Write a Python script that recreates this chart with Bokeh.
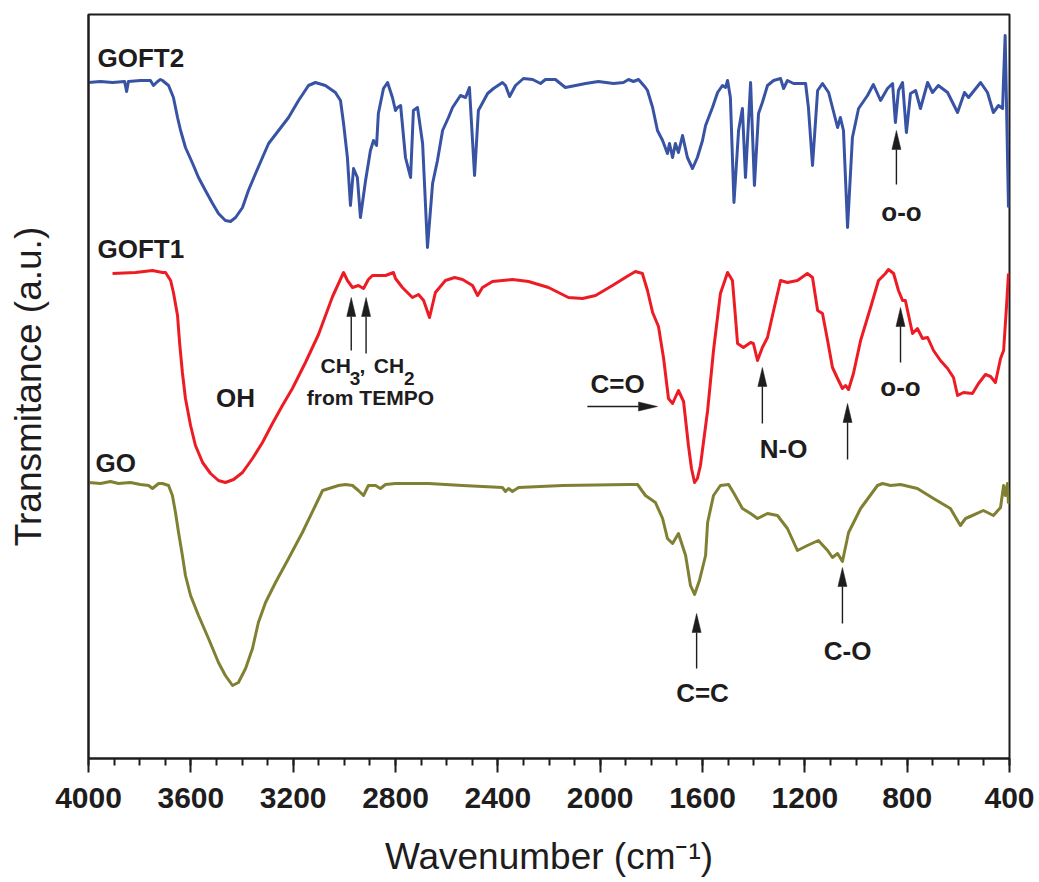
import math
from bokeh.plotting import figure
from bokeh.models import Range1d, FixedTicker, Label
from bokeh.embed import file_html
from bokeh.resources import INLINE

# ---------------- data ----------------
# GOFT2 (blue)
goft2_wn = [4000, 3953, 3906, 3859, 3851, 3844, 3797, 3758, 3746, 3730, 3719,
            3711, 3687, 3668, 3652, 3640, 3621, 3593, 3570, 3543, 3515, 3492, 3465, 3445, 3425,
            3398, 3375, 3347, 3320, 3296, 3257, 3218, 3179, 3140, 3113, 3074, 3035, 3015, 3003,
            2988, 2976, 2964, 2949, 2937, 2917, 2898, 2886, 2874, 2867, 2847, 2831, 2812, 2800,
            2792, 2780, 2761, 2741, 2730, 2714, 2694, 2675, 2655, 2636, 2616, 2593, 2577, 2546,
            2526, 2511, 2491, 2476, 2440, 2417, 2382, 2370, 2354, 2331, 2300, 2264, 2233, 2214,
            2175, 2136, 2096, 2057, 2007, 1948, 1909, 1889, 1870, 1850, 1823, 1815, 1795, 1776,
            1756, 1737, 1729, 1717, 1706, 1694, 1678, 1659, 1639, 1620, 1600, 1588, 1561, 1541,
            1522, 1510, 1502, 1491, 1477, 1459, 1444, 1432, 1412, 1397, 1381, 1366, 1346, 1322,
            1295, 1283, 1268, 1244, 1197, 1186, 1170, 1150, 1131, 1107, 1072, 1061, 1049, 1033,
            1014, 990, 955, 932, 904, 877, 857, 846, 834, 818, 803, 787, 767, 748,
            720, 701, 678, 642, 603, 576, 560, 513, 486, 463, 443, 427, 423, 417, 412, 404]
goft2_t = [676, 677, 676, 677, 667, 677, 678, 678, 673, 677, 679,
           678, 673, 661, 641, 628, 611, 595, 581, 568, 555, 545, 538, 537, 541,
           551, 568, 585, 601, 615, 628, 641, 658, 673, 676, 673, 666, 658, 635,
           601, 553, 590, 581, 541, 578, 608, 618, 613, 645, 670, 676, 661, 648,
           651, 653, 601, 581, 648, 651, 615, 511, 575, 598, 628, 641, 651, 663,
           661, 671, 583, 648, 665, 670, 676, 673, 662, 673, 680, 679, 675, 679,
           679, 671, 673, 675, 677, 675, 676, 679, 677, 679, 671, 668, 651, 628,
           618, 605, 615, 601, 615, 606, 623, 601, 590, 601, 618, 633, 651, 666,
           673, 671, 678, 661, 556, 628, 650, 581, 676, 573, 645, 656, 673, 678,
           680, 670, 678, 675, 675, 651, 593, 668, 675, 666, 631, 641, 628, 531,
           621, 650, 663, 674, 658, 670, 675, 636, 668, 676, 626, 665, 668, 650,
           676, 666, 673, 666, 646, 666, 661, 676, 666, 646, 653, 650, 681, 723, 658, 551]

# GOFT1 (red)
goft1_wn = [3906, 3816, 3750, 3711, 3699, 3679, 3668, 3652, 3644, 3633, 3621, 3601, 3582, 3554,
            3523, 3492, 3465, 3433, 3398, 3359, 3320, 3281, 3242, 3203, 3152, 3101, 3046, 3003,
            2988, 2968, 2945, 2925, 2906, 2890, 2839, 2808, 2800, 2773, 2734,
            2710, 2690, 2667, 2644, 2605, 2569, 2538, 2499, 2479, 2460, 2421, 2343, 2311, 2280, 2202,
            2124, 2069, 2018, 1952, 1889, 1862, 1835, 1815, 1795, 1772, 1752, 1733, 1717, 1694, 1674,
            1655, 1643, 1631, 1620, 1608, 1580, 1557, 1530, 1502, 1483, 1471, 1463, 1440, 1412, 1401,
            1385, 1366, 1346, 1322, 1295, 1268, 1229, 1190, 1170, 1150, 1131, 1111, 1092, 1072, 1053,
            1041, 1029, 1010, 982, 943, 912, 885, 873, 853, 834, 818, 807, 779, 760, 740, 720, 697,
            670, 642, 619, 603, 580, 545, 521, 494, 474, 455, 435, 423, 412, 404]
goft1_t = [485, 486, 488, 486, 486, 478, 466, 443, 416, 386, 360, 333, 313, 296,
           285, 278, 276, 279, 286, 300, 316, 335, 353, 370, 396, 424, 462, 486,
           478, 471, 473, 470, 479, 483, 483, 486, 480, 471, 461,
           464, 458, 441, 466, 478, 481, 479, 473, 463, 471, 477, 479, 478, 477, 471,
           461, 460, 463, 473, 483, 487, 485, 468, 446, 432, 400, 360, 355, 368, 357,
           313, 290, 276, 280, 293, 348, 408, 465, 486, 478, 441, 415, 411, 416, 415,
           398, 411, 421, 448, 478, 476, 478, 485, 481, 448, 445, 418, 391, 380, 370,
           373, 369, 385, 418, 451, 478, 485, 489, 485, 468, 458, 458, 425, 430, 420, 421, 408,
           398, 390, 381, 363, 366, 365, 375, 384, 382, 376, 400, 408, 451, 485]

# GO (olive)
go_wn = [4000, 3953, 3914, 3883, 3836, 3797, 3765, 3750, 3726, 3711, 3687, 3672, 3660, 3648, 3633,
         3621, 3601, 3570, 3531, 3492, 3465, 3437, 3414, 3386, 3359, 3336, 3308, 3269, 3218, 3164,
         3113, 3085, 3023, 2995, 2968, 2945, 2925, 2906, 2878, 2859, 2839, 2800, 2671, 2538, 2382,
         2370, 2358, 2343, 2319, 2147, 1889, 1854, 1823, 1784, 1756, 1737, 1717, 1694, 1666, 1647,
         1631, 1612, 1588, 1580, 1557, 1530, 1498, 1479, 1444, 1412, 1385, 1346, 1307, 1268, 1229,
         1190, 1147, 1111, 1092, 1072, 1053, 1029, 982, 916, 896, 865, 826, 760, 697, 631,
         592, 572, 545, 502, 463, 435, 423, 416, 408, 404]
go_t = [276, 275, 277, 275, 276, 274, 273, 270, 275, 275, 273, 263, 246, 226, 203,
        183, 163, 143, 120, 96, 83, 73, 76, 90, 110, 136, 156, 176, 200, 226,
        253, 268, 273, 274, 273, 268, 263, 273, 273, 270, 274, 275, 275, 273, 271,
        267, 270, 267, 271, 273, 274, 274, 263, 256, 240, 220, 215, 225, 203, 173,
        164, 178, 203, 236, 263, 273, 274, 266, 250, 245, 240, 245, 243, 230, 208,
        213, 218, 208, 201, 205, 197, 226, 250, 273, 275, 273, 274, 270, 260, 250,
        233, 240, 243, 248, 243, 251, 273, 263, 275, 255]

x_major_ticks = [4000, 3600, 3200, 2800, 2400, 2000, 1600, 1200, 800, 400]
x_minor_ticks = list(range(400, 4001, 100))

# annotation texts: (text, wavenumber, T, font size px, align, baseline)
labels = [
    ("GOFT2", 3965, 701, 26, "left", "middle"),
    ("GOFT1", 3965, 510, 26, "left", "middle"),
    ("GO", 3973, 296, 26, "left", "middle"),
    ("OH", 3425, 361, 26, "center", "middle"),
    ("CH", 3093, 393, 21, "left", "alphabetic"),
    ("3", 2979, 380, 19, "left", "alphabetic"),
    (",", 2941, 393, 21, "left", "alphabetic"),
    ("CH", 2885, 393, 21, "left", "alphabetic"),
    ("2", 2767, 380, 19, "left", "alphabetic"),
    ("from TEMPO", 2898, 361, 21, "center", "middle"),
    ("C=O", 1932, 375, 26, "center", "middle"),
    ("N-O", 1283, 310, 26, "center", "middle"),
    ("o-o", 826, 372, 26, "center", "middle"),
    ("o-o", 822, 547, 26, "center", "middle"),
    ("C=C", 1600, 66, 26, "center", "middle"),
    ("C-O", 1033, 108, 26, "center", "middle"),
]

# arrows: (tail wn, tail T, tip wn, tip T)
arrows = [
    (2973, 408, 2973, 461),
    (2915, 405, 2915, 461),
    (2050, 352, 1776, 352),
    (1366, 335, 1366, 391),
    (1033, 299, 1033, 355),
    (826, 396, 826, 451),
    (842, 574, 842, 628),
    (1623, 90, 1623, 145),
    (1053, 135, 1053, 191),
]

# ---------------- figure ----------------
X_START, X_END = 4000, 400
Y_MIN, Y_MAX = 0, 744
W, H = 1038, 881
BL, BR, BT, BB = 88, 29, 14, 123
FRAME_W, FRAME_H = W - BL - BR, H - BT - BB

INK = "#1e1c1d"
FONT = "Liberation Sans"

p = figure(width=W, height=H, output_backend="svg", toolbar_location=None,
           x_range=Range1d(X_START, X_END), y_range=Range1d(Y_MIN, Y_MAX),
           min_border_left=BL, min_border_right=BR, min_border_top=BT, min_border_bottom=BB)
p.grid.visible = False
p.background_fill_color = "white"
p.border_fill_color = "white"
p.outline_line_color = INK
p.outline_line_width = 2
p.outline_line_alpha = 1.0

xa = p.xaxis[0]
xa.ticker = FixedTicker(ticks=x_major_ticks, minor_ticks=x_minor_ticks)
xa.axis_line_color = INK
xa.axis_line_width = 2
xa.major_tick_line_color = INK
xa.major_tick_line_width = 2
xa.major_tick_out = 14
xa.major_tick_in = 0
xa.minor_tick_line_color = INK
xa.minor_tick_line_width = 2
xa.minor_tick_out = 7
xa.minor_tick_in = 0
xa.major_label_text_font = FONT
xa.major_label_text_font_style = "bold"
xa.major_label_text_font_size = "30px"
xa.major_label_text_color = INK
xa.major_label_standoff = 15
xa.axis_label = "Wavenumber (cm\u207b\u00b9)"
xa.axis_label_text_font = FONT
xa.axis_label_text_font_style = "normal"
xa.axis_label_text_font_size = "37px"
xa.axis_label_text_color = INK
xa.axis_label_standoff = 25

ya = p.yaxis[0]
ya.ticker = FixedTicker(ticks=[])
ya.axis_line_color = INK
ya.axis_line_width = 2
ya.major_tick_out = 0
ya.major_tick_in = 0
ya.minor_tick_out = 0
ya.minor_tick_in = 0
ya.major_label_standoff = 0
ya.major_label_text_font_size = "0px"
ya.axis_label = "Transmitance (a.u.)"
ya.axis_label_text_font = FONT
ya.axis_label_text_font_style = "normal"
ya.axis_label_text_font_size = "37px"
ya.axis_label_text_color = INK
ya.axis_label_standoff = 40

LW = 3
p.line(goft2_wn, goft2_t, line_color="#3953a4", line_width=LW, line_join="round")
p.line(goft1_wn, goft1_t, line_color="#ed1c24", line_width=LW, line_join="round")
p.line(go_wn, go_t, line_color="#808033", line_width=LW, line_join="round")

for txt, x, y, size, align, base in labels:
    p.add_layout(Label(x=x, y=y, text=txt, text_font=FONT, text_font_style="bold",
                       text_font_size=f"{size}px", text_color=INK,
                       text_align=align, text_baseline=base))

# arrow shafts + narrow triangular heads (head size given in screen pixels)
kx = FRAME_W / (X_END - X_START)
ky = FRAME_H / (Y_MAX - Y_MIN)
HEAD_L, HEAD_W = 19, 9
sx0, sy0, sx1, sy1 = [], [], [], []
hxs, hys = [], []
for x0, y0, x1, y1 in arrows:
    dxp, dyp = (x1 - x0) * kx, (y1 - y0) * ky
    n = math.hypot(dxp, dyp)
    ux, uy = dxp / n, dyp / n
    bx, by = -ux * HEAD_L, -uy * HEAD_L
    px, py = -uy, ux
    pts = [(0, 0), (bx + px * HEAD_W / 2, by + py * HEAD_W / 2), (bx - px * HEAD_W / 2, by - py * HEAD_W / 2)]
    hxs.append([x1 + ox / kx for ox, oy in pts])
    hys.append([y1 + oy / ky for ox, oy in pts])
    sx0.append(x0); sy0.append(y0)
    sx1.append(x1 + bx / kx); sy1.append(y1 + by / ky)

p.segment(sx0, sy0, sx1, sy1, line_color=INK, line_width=1.4)
p.patches(hxs, hys, fill_color=INK, line_color=INK, line_width=0.5)

open("out.html", "w").write(file_html(p, INLINE))
